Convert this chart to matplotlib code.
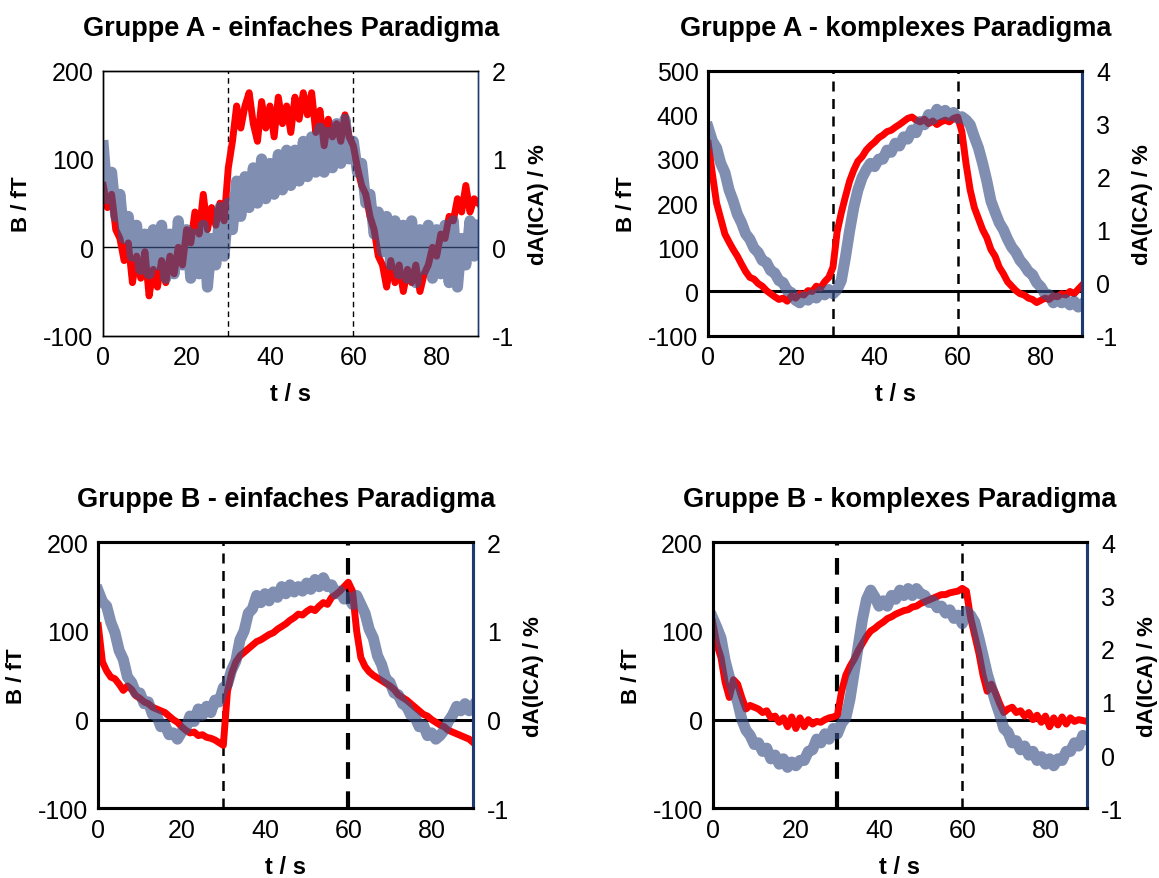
import matplotlib
matplotlib.use("Agg")
import matplotlib.pyplot as plt
import numpy as np

plt.rcParams['font.family'] = ['Liberation Sans', 'DejaVu Sans']
plt.rcParams['axes.unicode_minus'] = False

# time axis, 1 s steps
t = np.arange(0, 91)

# Gruppe A - einfaches Paradigma
a_simple_B = [70, 45, 60, 20, 10, -15, 5, -40, -10, -35, -5, -55, -25, -45, -15, -40, -10, -30, 0, -20,
              20, 5, 40, 15, 60, 20, 45, 25, 50, 30, 90, 120, 160, 135, 160, 175, 140, 120, 165, 135,
              160, 125, 170, 140, 160, 130, 170, 145, 175, 150, 175, 130, 155, 115, 145, 125, 140, 120, 150, 125,
              115, 90, 70, 60, 35, 20, -10, -20, -45, -15, -40, -20, -50, -25, -40, -20, -50, -30, -20, 0,
              -10, 15, 10, 35, 30, 55, 40, 70, 40, 55, 50]
a_simple_dA = [1.15, 0.55, 0.85, 0.35, 0.6, 0.1, 0.35, -0.1, 0.25, -0.25, 0.15, -0.3, 0.2, -0.2, 0.25, -0.35, 0.15, -0.3, 0.3, -0.2,
               0.2, -0.35, 0.15, -0.3, 0.25, -0.45, 0.1, -0.2, 0.45, -0.1, 0.5, 0.2, 0.75, 0.35, 0.8, 0.45, 0.9, 0.5, 1.0, 0.55,
               0.95, 0.6, 1.05, 0.65, 1.1, 0.7, 1.1, 0.75, 1.2, 0.8, 1.25, 0.85, 1.35, 0.85, 1.3, 0.9, 1.4, 0.95, 1.45, 1.0,
               1.2, 0.85, 0.95, 0.5, 0.6, 0.15, 0.4, -0.05, 0.35, -0.2, 0.3, -0.3, 0.25, -0.35, 0.3, -0.4, 0.2, -0.25, 0.25, -0.35,
               0.2, -0.3, 0.25, -0.4, 0.3, -0.45, 0.1, -0.2, 0.3, -0.1, 0.25]

# Gruppe A - komplexes Paradigma
a_complex_B = [335, 265, 200, 165, 130, 112, 95, 80, 62, 45, 32, 28, 18, 12, 2, -5, -12, -18, -15, -22,
               -10, -15, -5, -8, 2, 0, 12, 8, 22, 32, 55, 135, 178, 215, 250, 275, 295, 305, 320, 330,
               338, 348, 354, 362, 365, 372, 378, 385, 392, 395, 388, 384, 390, 380, 386, 378, 384, 388, 384, 392,
               395, 362, 290, 230, 190, 165, 140, 122, 95, 80, 55, 40, 22, 12, 2, -5, -8, -15, -18, -25,
               -20, -15, -18, -10, -12, -5, -8, 0, -5, 5, 15]
a_complex_dA = [2.92, 2.67, 2.54, 2.25, 2.08, 1.75, 1.54, 1.29, 1.13, 0.92, 0.82, 0.65, 0.57, 0.42, 0.38, 0.23, 0.18, 0.04, 0.0, -0.15,
                -0.19, -0.33, -0.38, -0.27, -0.33, -0.23, -0.29, -0.17, -0.23, -0.13, -0.21, -0.13, 0.04, 0.48, 0.98, 1.42, 1.75, 1.98, 2.13, 2.25,
                2.19, 2.33, 2.33, 2.5, 2.46, 2.63, 2.58, 2.75, 2.71, 2.88, 2.83, 3.04, 2.98, 3.17, 3.08, 3.27, 3.17, 3.25, 3.15, 3.21,
                3.1, 3.13, 3.07, 2.98, 2.75, 2.54, 2.25, 1.92, 1.54, 1.33, 1.13, 1.0, 0.82, 0.67, 0.57, 0.42, 0.33, 0.21, 0.15, 0.0,
                -0.08, -0.21, -0.23, -0.38, -0.29, -0.38, -0.32, -0.42, -0.35, -0.46, -0.4]

# Gruppe B - einfaches Paradigma
b_simple_B = [106, 65, 55, 48, 46, 40, 33, 38, 34, 27, 24, 20, 18, 14, 12, 10, 8, 4, 0, -3,
              -8, -12, -15, -14, -18, -17, -20, -21, -23, -26, -29, 32, 52, 65, 72, 76, 80, 84, 88, 90,
              93, 96, 98, 102, 105, 108, 112, 115, 119, 118, 122, 125, 123, 128, 132, 130, 138, 141, 145, 150,
              155, 145, 100, 70, 60, 54, 50, 47, 44, 41, 38, 34, 28, 25, 22, 18, 14, 10, 6, 4,
              0, -3, -6, -8, -12, -14, -16, -18, -20, -22, -26]
b_simple_dA = [1.45, 1.33, 1.28, 1.1, 0.98, 0.78, 0.68, 0.48, 0.42, 0.3, 0.3, 0.18, 0.2, 0.06, 0.05, -0.08, -0.06, -0.17, -0.15, -0.22,
               -0.14, -0.1, 0.04, -0.02, 0.12, 0.05, 0.15, 0.08, 0.22, 0.2, 0.36, 0.4, 0.56, 0.66, 0.9, 1.0, 1.2, 1.25, 1.4, 1.32,
               1.42, 1.34, 1.44, 1.38, 1.5, 1.42, 1.52, 1.44, 1.5, 1.45, 1.54, 1.47, 1.58, 1.5, 1.6, 1.5, 1.52, 1.42, 1.45, 1.36,
               1.38, 1.3, 1.4, 1.3, 1.2, 1.02, 0.92, 0.72, 0.62, 0.46, 0.42, 0.3, 0.28, 0.18, 0.15, 0.05, 0.03, -0.08, -0.06, -0.18,
               -0.15, -0.22, -0.18, -0.12, -0.02, 0.05, 0.15, 0.1, 0.18, 0.1, 0.16]

# Gruppe B - komplexes Paradigma
b_complex_B = [110, 85, 70, 42, 25, 45, 40, 25, 12, 16, 14, 12, 8, 10, 2, 4, -3, 2, -8, 3,
               -10, 2, -8, 0, -5, -2, -3, 0, 2, 3, 5, 32, 50, 60, 68, 78, 86, 94, 100, 103,
               107, 110, 114, 116, 119, 121, 123, 124, 127, 128, 131, 133, 135, 137, 139, 141, 141, 143, 144, 145,
               148, 145, 115, 95, 75, 50, 32, 40, 30, 18, 8, 12, 14, 8, 10, 4, 8, 0, 5, -3,
               4, -8, 2, -6, 3, -5, 2, -2, 0, -1, -2]
b_complex_dA = [2.58, 2.4, 2.2, 1.77, 1.47, 1.22, 1.0, 0.67, 0.47, 0.37, 0.2, 0.23, 0.07, 0.13, -0.07, 0.0, -0.17, -0.07, -0.23, -0.13,
                -0.2, -0.1, -0.1, 0.07, 0.1, 0.3, 0.23, 0.4, 0.3, 0.5, 0.4, 0.6, 0.7, 1.05, 1.55, 2.05, 2.55, 2.93, 3.1, 2.97,
                2.8, 2.9, 2.8, 3.0, 2.93, 3.1, 3.0, 3.13, 3.0, 3.13, 3.03, 3.0, 2.87, 2.9, 2.77, 2.8, 2.67, 2.73, 2.57, 2.63,
                2.47, 2.7, 2.63, 2.5, 2.2, 1.87, 1.53, 1.27, 1.0, 0.77, 0.5, 0.43, 0.23, 0.27, 0.1, 0.17, 0.0, 0.07, -0.1, -0.03,
                -0.17, -0.07, -0.2, -0.07, -0.1, 0.07, 0.07, 0.23, 0.17, 0.37, 0.3]

RED = '#ff0000'
BLUE = '#3b5288'
NAVY = '#1f3a70'


def panel(rect, title, B, dA, ylim, yticks, y2lim, y2ticks, frame_lw, dash_lw):
    ax = fig.add_axes(rect)
    ax.axhline(0, color='black', lw=frame_lw, zorder=1)
    ax.axvline(30, color='black', lw=dash_lw[0], ls=(0, (4, 3)), zorder=1)
    ax.axvline(60, color='black', lw=dash_lw[1], ls=(0, (4, 3)), zorder=1)
    ax.plot(t, B, color=RED, lw=5, solid_joinstyle='round', zorder=2)
    ax.set_xlim(0, 90)
    ax.set_ylim(*ylim)
    ax.set_xticks([0, 20, 40, 60, 80])
    ax.set_yticks(yticks)
    ax.set_title(title, fontsize=19.5, fontweight='bold', pad=26)
    ax.set_xlabel('t / s', fontsize=17, fontweight='bold', labelpad=9)
    ax.set_ylabel('B / fT', fontsize=16, fontweight='bold', labelpad=8)
    ax.tick_params(length=0, labelsize=18, pad=7)

    ax2 = ax.twinx()
    ax2.plot(t, dA, color=BLUE, lw=8, alpha=0.65, solid_joinstyle='round')
    ax2.set_ylim(*y2lim)
    ax2.set_yticks(y2ticks)
    ax2.set_ylabel('dA(ICA) / %', fontsize=16, fontweight='bold', labelpad=10)
    ax2.tick_params(length=0, labelsize=18, pad=10)
    for a in (ax, ax2):
        for s in a.spines.values():
            s.set_linewidth(frame_lw)
            s.set_color('black')
        a.spines['right'].set_color(NAVY)
    return ax


fig = plt.figure(figsize=(11.59, 8.79), dpi=100)

panel([0.0891, 0.6170, 0.3236, 0.3015], 'Gruppe A - einfaches Paradigma', a_simple_B, a_simple_dA,
      (-100, 200), [-100, 0, 100, 200], (-1, 2), [-1, 0, 1, 2], 1.0, (1.0, 1.0))
panel([0.6111, 0.6170, 0.3228, 0.3015], 'Gruppe A - komplexes Paradigma', a_complex_B, a_complex_dA,
      (-100, 500), [-100, 0, 100, 200, 300, 400, 500], (-1, 4), [-1, 0, 1, 2, 3, 4], 2.2, (1.8, 1.8))
panel([0.0848, 0.0793, 0.3236, 0.3026], 'Gruppe B - einfaches Paradigma', b_simple_B, b_simple_dA,
      (-100, 200), [-100, 0, 100, 200], (-1, 2), [-1, 0, 1, 2], 2.2, (1.8, 3.0))
panel([0.6149, 0.0793, 0.3230, 0.3026], 'Gruppe B - komplexes Paradigma', b_complex_B, b_complex_dA,
      (-100, 200), [-100, 0, 100, 200], (-1, 4), [-1, 0, 1, 2, 3, 4], 2.2, (3.0, 1.8))

fig.savefig('out.png', dpi=100)
